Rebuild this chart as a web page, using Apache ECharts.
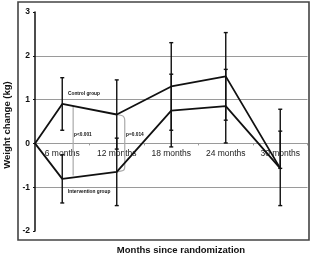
<!DOCTYPE html>
<html>
<head>
<meta charset="utf-8">
<script src="https://cdn.jsdelivr.net/npm/echarts@6/dist/echarts.min.js"></script>
<style>html,body{margin:0;padding:0;background:#fff;}#c{width:312px;height:255px;}</style>
</head>
<body>
<div id="c"></div>
<script>
const categories = ['6 months', '12 months', '18 months', '24 months', '30 months'];
const baseline = 0;
const controlMean = [0.9, 0.66, 1.30, 1.53, -0.57];
const controlLow = [0.3, -0.13, 0.3, 0.53, -0.57];
const controlHigh = [1.5, 1.45, 2.3, 2.53, 0.78];
const interventionMean = [-0.81, -0.65, 0.75, 0.85, -0.57];
const interventionLow = [-1.36, -1.42, -0.08, 0.01, -1.42];
const interventionHigh = [-0.26, 0.12, 1.58, 1.69, 0.28];
const yMin = -2, yMax = 3, yStep = 1;

const pos = i => i + 0.5;
const lineData = arr => [[0, baseline]].concat(arr.map((v, i) => [pos(i), v]));
const errData = (lo, hi) => lo.map((v, i) => [pos(i), v, hi[i]]);

const gridTop = 12, gridBottom = 24, chartH = 255;
const plotH = chartH - gridTop - gridBottom;
const zeroOffset = -plotH * (baseline - yMin) / (yMax - yMin);

const chart = echarts.init(document.getElementById('c'), null, {renderer: 'canvas'});
const font = 'Liberation Sans, Arial, sans-serif';

function errRender(params, api) {
  const x = api.value(0), lo = api.value(1), hi = api.value(2);
  const a = api.coord([x, lo]), b = api.coord([x, hi]);
  const st = {stroke: '#111', lineWidth: 1.4};
  const ch = [{type: 'line', shape: {x1: a[0], y1: a[1], x2: b[0], y2: b[1]}, style: st}];
  if (Math.abs(lo - hi) > 1e-6) {
    ch.push({type: 'line', shape: {x1: a[0] - 2, y1: a[1], x2: a[0] + 2, y2: a[1]}, style: st});
    ch.push({type: 'line', shape: {x1: b[0] - 2, y1: b[1], x2: b[0] + 2, y2: b[1]}, style: st});
  }
  return {type: 'group', children: ch};
}

function interp(arr, x) {
  const pts = lineData(arr);
  for (let k = 0; k < pts.length - 1; k++) {
    if (x >= pts[k][0] && x <= pts[k + 1][0]) {
      const t = (x - pts[k][0]) / (pts[k + 1][0] - pts[k][0]);
      return pts[k][1] + t * (pts[k + 1][1] - pts[k][1]);
    }
  }
  return 0;
}
function bracketRender(params, api) {
  const bx = 0.7;
  const t1 = api.coord([bx, interp(controlMean, bx)]);
  const b1 = api.coord([bx, interp(interventionMean, bx)]);
  const c = api.coord([pos(1), controlMean[1]]);
  const d = api.coord([pos(1), interventionMean[1]]);
  const rx = c[0] + 8;
  const p2 = 'M' + c[0] + ' ' + c[1] +
    ' L' + (rx - 3) + ' ' + (c[1] + 1) +
    ' Q' + rx + ' ' + (c[1] + 2) + ' ' + rx + ' ' + (c[1] + 6) +
    ' L' + rx + ' ' + (d[1] - 5) +
    ' Q' + rx + ' ' + (d[1] - 1) + ' ' + (rx - 3) + ' ' + (d[1] - 1) +
    ' L' + d[0] + ' ' + d[1];
  const st = {stroke: '#aaa', lineWidth: 1.2, fill: null};
  return {type: 'group', children: [
    {type: 'line', shape: {x1: t1[0], y1: t1[1], x2: b1[0], y2: b1[1] - 2}, style: st},
    {type: 'path', shape: {pathData: p2}, style: st}
  ]};
}

const gray = '#9a9a9a';
const option = {
  animation: false,
  backgroundColor: '#fff',
  grid: {left: 35, right: 4.5, top: gridTop, bottom: gridBottom, containLabel: false, outerBoundsMode: 'none'},
  xAxis: [{
    type: 'category', data: categories, boundaryGap: true, position: 'bottom', offset: zeroOffset,
    axisLine: {onZero: false, lineStyle: {color: gray, width: 1}},
    axisTick: {show: true, length: 2, lineStyle: {color: gray}},
    axisLabel: {fontSize: 8.5, color: '#222', fontFamily: font, margin: 6},
    splitLine: {show: false}
  }, {
    type: 'value', min: 0, max: 5, show: false
  }],
  yAxis: {
    type: 'value', min: yMin, max: yMax, interval: yStep,
    axisLine: {show: true, onZero: false, lineStyle: {color: '#111', width: 1.5}},
    axisTick: {show: true, length: 2, lineStyle: {color: '#111'}},
    axisLabel: {fontSize: 8.5, fontWeight: 'bold', color: '#111', fontFamily: font, margin: 5},
    splitLine: {show: true, lineStyle: {color: ['rgba(0,0,0,0)', gray, gray, gray, gray, 'rgba(0,0,0,0)'], width: 1}}
  },
  series: [
    {type: 'custom', xAxisIndex: 1, renderItem: bracketRender, data: [[0, 0]], z: 1, silent: true},
    {type: 'custom', xAxisIndex: 1, renderItem: errRender, data: errData(controlLow, controlHigh), encode: {x: 0, y: [1, 2]}, z: 2},
    {type: 'custom', xAxisIndex: 1, renderItem: errRender, data: errData(interventionLow, interventionHigh), encode: {x: 0, y: [1, 2]}, z: 2},
    {type: 'line', name: 'Control group', xAxisIndex: 1, data: lineData(controlMean), symbol: 'none',
     lineStyle: {color: '#111', width: 1.8}, z: 3},
    {type: 'line', name: 'Intervention group', xAxisIndex: 1, data: lineData(interventionMean), symbol: 'none',
     lineStyle: {color: '#111', width: 1.8}, z: 3}
  ],
  graphic: [
    {type: 'rect', shape: {x: 18, y: 2, width: 291, height: 238}, style: {stroke: '#444', lineWidth: 1.6, fill: null}, z: 10},
    {type: 'text', left: 68, top: 91.5, style: {text: 'Control group', font: 'bold 4.8px ' + font, fill: '#111'}},
    {type: 'text', left: 68, top: 189.5, style: {text: 'Intervention group', font: 'bold 4.8px ' + font, fill: '#111'}},
    {type: 'text', left: 74, top: 132.5, style: {text: 'p<0.001', font: 'bold 4.8px ' + font, fill: '#111'}},
    {type: 'text', left: 126, top: 132.5, style: {text: 'p=0.014', font: 'bold 4.8px ' + font, fill: '#111'}},
    {type: 'text', x: 7.5, y: 125, rotation: Math.PI / 2, style: {text: 'Weight change (kg)', font: 'bold 9.5px ' + font, fill: '#111', textAlign: 'center', textVerticalAlign: 'middle'}},
    {type: 'text', x: 181, y: 250, style: {text: 'Months since randomization', font: 'bold 9.5px ' + font, fill: '#111', textAlign: 'center', textVerticalAlign: 'middle'}}
  ]
};
chart.setOption(option);
</script>
</body>
</html>
